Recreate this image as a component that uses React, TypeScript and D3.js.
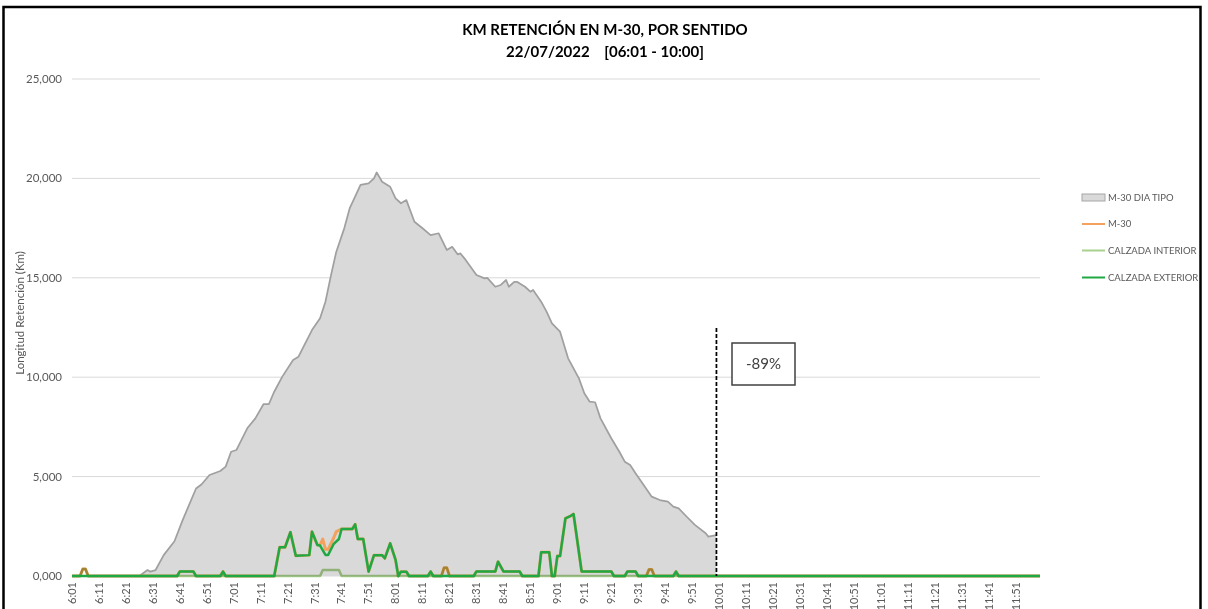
import * as React from 'react';
import * as d3 from 'd3';

const WIDTH = 1208;
const HEIGHT = 609;

// one category per minute, 6:01 .. 12:00
const minutes: string[] = [];
for (let m = 361; m <= 720; m++) {
  minutes.push(Math.floor(m / 60) + ':' + String(m % 60).padStart(2, '0'));
}

const xTicks = [
  '6:01', '6:11', '6:21', '6:31', '6:41', '6:51', '7:01', '7:11', '7:21', '7:31', '7:41', '7:51',
  '8:01', '8:11', '8:21', '8:31', '8:41', '8:51', '9:01', '9:11', '9:21', '9:31', '9:41', '9:51',
  '10:01', '10:11', '10:21', '10:31', '10:41', '10:51', '11:01', '11:11', '11:21', '11:31', '11:41', '11:51',
];
const yTicks = [0, 5000, 10000, 15000, 20000, 25000];

// M-30 DIA TIPO (reference day), ends at 10:00
const diaTipo: [string, number][] = [
  ['6:01', 0], ['6:26', 0], ['6:29', 300], ['6:30', 220], ['6:32', 300], ['6:35', 1050], ['6:39', 1750],
  ['6:42', 2800], ['6:47', 4400], ['6:49', 4600], ['6:52', 5080], ['6:56', 5280], ['6:58', 5500],
  ['7:00', 6250], ['7:02', 6340], ['7:06', 7430], ['7:09', 7930], ['7:12', 8640], ['7:14', 8640],
  ['7:16', 9270], ['7:19', 10030], ['7:23', 10870], ['7:25', 11030], ['7:30', 12370], ['7:33', 12960],
  ['7:35', 13800], ['7:37', 15100], ['7:39', 16300], ['7:42', 17500], ['7:44', 18500], ['7:46', 19080],
  ['7:48', 19670], ['7:51', 19750], ['7:53', 20000], ['7:54', 20300], ['7:56', 19830], ['7:59', 19580],
  ['8:01', 19000], ['8:03', 18750], ['8:05', 18910], ['8:08', 17820], ['8:11', 17490], ['8:14', 17150],
  ['8:17', 17240], ['8:20', 16400], ['8:22', 16560], ['8:24', 16180], ['8:25', 16230], ['8:27', 15900],
  ['8:31', 15140], ['8:34', 14970], ['8:35', 15000], ['8:38', 14550], ['8:40', 14640], ['8:42', 14890],
  ['8:43', 14550], ['8:45', 14800], ['8:46', 14800], ['8:49', 14550], ['8:51', 14300], ['8:52', 14390],
  ['8:55', 13800], ['8:57', 13300], ['8:59', 12710], ['9:02', 12290], ['9:05', 10950], ['9:09', 9940],
  ['9:11', 9190], ['9:13', 8770], ['9:15', 8740], ['9:17', 7930], ['9:21', 6930], ['9:24', 6250],
  ['9:26', 5750], ['9:28', 5580], ['9:30', 5170], ['9:33', 4580], ['9:36', 3990], ['9:39', 3820],
  ['9:42', 3740], ['9:44', 3490], ['9:46', 3400], ['9:49', 2980], ['9:52', 2570], ['9:56', 2150],
  ['9:57', 1980], ['10:00', 2060],
];

// M-30 total
const m30: [string, number][] = [
  ['6:01', 0], ['6:04', 0], ['6:05', 350], ['6:06', 350], ['6:07', 0], ['6:40', 0], ['6:41', 230],
  ['6:46', 230], ['6:47', 0], ['6:56', 0], ['6:57', 220], ['6:58', 0], ['7:16', 0], ['7:18', 1440],
  ['7:20', 1440], ['7:22', 2200], ['7:24', 1020], ['7:29', 1050], ['7:30', 2230], ['7:32', 1560],
  ['7:33', 1560], ['7:34', 1860], ['7:35', 1340], ['7:36', 1340], ['7:38', 1900], ['7:39', 2230],
  ['7:40', 2300], ['7:41', 2370], ['7:45', 2370], ['7:46', 2600], ['7:47', 1860], ['7:49', 1860],
  ['7:51', 220], ['7:53', 1050], ['7:56', 1050], ['7:57', 890], ['7:59', 1640], ['8:01', 810],
  ['8:02', 0], ['8:03', 220], ['8:05', 220], ['8:06', 0], ['8:13', 0], ['8:14', 220], ['8:15', 0],
  ['8:18', 0], ['8:19', 420], ['8:20', 420], ['8:21', 0], ['8:30', 0], ['8:31', 230], ['8:38', 230],
  ['8:39', 720], ['8:41', 230], ['8:47', 230], ['8:48', 0], ['8:54', 0], ['8:55', 1190], ['8:58', 1190],
  ['8:59', 0], ['9:00', 0], ['9:01', 1000], ['9:02', 1000], ['9:04', 2900], ['9:06', 3030],
  ['9:07', 3120], ['9:10', 230], ['9:21', 230], ['9:22', 0], ['9:26', 0], ['9:27', 230], ['9:30', 230],
  ['9:31', 0], ['9:34', 0], ['9:35', 330], ['9:36', 330], ['9:37', 0], ['9:44', 0], ['9:45', 220],
  ['9:46', 0], ['12:00', 0],
];

const calzadaInterior: [string, number][] = [
  ['6:01', 0], ['6:04', 0], ['6:05', 350], ['6:06', 350], ['6:07', 0], ['7:33', 0], ['7:34', 300],
  ['7:40', 300], ['7:41', 0], ['8:18', 0], ['8:19', 420], ['8:20', 420], ['8:21', 0], ['9:34', 0],
  ['9:35', 330], ['9:36', 330], ['9:37', 0], ['12:00', 0],
];

const calzadaExterior: [string, number][] = [
  ['6:01', 0], ['6:40', 0], ['6:41', 230], ['6:46', 230], ['6:47', 0], ['6:56', 0], ['6:57', 220],
  ['6:58', 0], ['7:16', 0], ['7:18', 1440], ['7:20', 1440], ['7:22', 2200], ['7:24', 1020],
  ['7:29', 1050], ['7:30', 2230], ['7:32', 1560], ['7:33', 1530], ['7:35', 1060], ['7:36', 1060],
  ['7:38', 1600], ['7:40', 1860], ['7:41', 2370], ['7:45', 2370], ['7:46', 2600], ['7:47', 1860],
  ['7:49', 1860], ['7:51', 220], ['7:53', 1050], ['7:56', 1050], ['7:57', 890], ['7:59', 1640],
  ['8:01', 810], ['8:02', 0], ['8:03', 220], ['8:05', 220], ['8:06', 0], ['8:13', 0], ['8:14', 220],
  ['8:15', 0], ['8:30', 0], ['8:31', 230], ['8:38', 230], ['8:39', 720], ['8:41', 230], ['8:47', 230],
  ['8:48', 0], ['8:54', 0], ['8:55', 1190], ['8:58', 1190], ['8:59', 0], ['9:00', 0], ['9:01', 1000],
  ['9:02', 1000], ['9:04', 2900], ['9:06', 3030], ['9:07', 3120], ['9:10', 230], ['9:21', 230],
  ['9:22', 0], ['9:26', 0], ['9:27', 230], ['9:30', 230], ['9:31', 0], ['9:44', 0], ['9:45', 220],
  ['9:46', 0], ['12:00', 0],
];

const cutoff = '10:00';
const reduction = '-89%';

const FONT = 'Lato, Calibri, "Open Sans", sans-serif';
const GREY_TEXT = '#595959';

export default function App() {
  const ref = React.useRef<SVGSVGElement>(null);

  React.useEffect(() => {
    const svg = d3.select(ref.current);
    svg.selectAll('*').remove();

    const margin = { top: 79, right: 168, bottom: 33, left: 72 };
    const x = d3.scalePoint<string>().domain(minutes).range([margin.left, WIDTH - margin.right]);
    const y = d3.scaleLinear().domain([0, 25000]).range([HEIGHT - margin.bottom, margin.top]);

    svg.append('rect').attr('width', WIDTH).attr('height', HEIGHT).attr('fill', '#fff');

    // gridlines
    svg
      .append('g')
      .selectAll('line')
      .data(yTicks)
      .join('line')
      .attr('x1', margin.left)
      .attr('x2', WIDTH - margin.right)
      .attr('y1', d => y(d))
      .attr('y2', d => y(d))
      .attr('stroke', '#d9d9d9')
      .attr('stroke-width', 1);

    // y tick labels
    svg
      .append('g')
      .selectAll('text')
      .data(yTicks)
      .join('text')
      .attr('x', 62)
      .attr('y', d => y(d))
      .attr('dy', '0.35em')
      .attr('text-anchor', 'end')
      .attr('font-family', FONT)
      .attr('font-size', 11.5)
      .attr('fill', GREY_TEXT)
      .text(d => (d === 0 ? '0,000' : d3.format(',')(d)));

    svg
      .append('text')
      .attr('transform', 'translate(20,313) rotate(-90)')
      .attr('text-anchor', 'middle')
      .attr('dy', '0.35em')
      .attr('font-family', FONT)
      .attr('font-size', 11.5)
      .attr('fill', GREY_TEXT)
      .text('Longitud Retención (Km)');

    // x tick labels, rotated
    svg
      .append('g')
      .selectAll('text')
      .data(xTicks)
      .join('text')
      .attr('transform', d => `translate(${x(d)},582) rotate(-90)`)
      .attr('dy', '0.35em')
      .attr('text-anchor', 'end')
      .attr('font-family', FONT)
      .attr('font-size', 11)
      .attr('fill', GREY_TEXT)
      .text(d => d);

    // reference day area
    const area = d3
      .area<[string, number]>()
      .x(d => x(d[0])!)
      .y0(y(0))
      .y1(d => y(d[1]));
    const line = d3
      .line<[string, number]>()
      .x(d => x(d[0])!)
      .y(d => y(d[1]));

    svg.append('path').datum(diaTipo).attr('d', area).attr('fill', '#d9d9d9');
    svg
      .append('path')
      .datum(diaTipo)
      .attr('d', line)
      .attr('fill', 'none')
      .attr('stroke', '#a0a0a0')
      .attr('stroke-width', 1.75)
      .attr('stroke-linejoin', 'round');

    svg
      .append('path')
      .datum(m30)
      .attr('d', line)
      .attr('fill', 'none')
      .attr('stroke', '#f4a15d')
      .attr('stroke-width', 3)
      .attr('stroke-linejoin', 'round');
    svg
      .append('path')
      .datum(calzadaInterior)
      .attr('d', line)
      .attr('fill', 'none')
      .attr('stroke', '#a9d18e')
      .attr('stroke-width', 2.5)
      .attr('stroke-linejoin', 'round')
      .style('mix-blend-mode', 'multiply');
    svg
      .append('path')
      .datum(calzadaExterior)
      .attr('d', line)
      .attr('fill', 'none')
      .attr('stroke', '#1fa843')
      .attr('stroke-width', 2.5)
      .attr('stroke-linejoin', 'round');

    // cut-off marker and label
    svg
      .append('line')
      .attr('x1', x(cutoff)!)
      .attr('x2', x(cutoff)!)
      .attr('y1', 328)
      .attr('y2', y(0))
      .attr('stroke', '#000')
      .attr('stroke-width', 1.75)
      .attr('stroke-dasharray', '4,2');

    svg
      .append('rect')
      .attr('x', 732)
      .attr('y', 343)
      .attr('width', 63)
      .attr('height', 42)
      .attr('fill', '#fff')
      .attr('stroke', '#404040')
      .attr('stroke-width', 1.5);
    svg
      .append('text')
      .attr('x', 763.5)
      .attr('y', 364)
      .attr('dy', '0.35em')
      .attr('text-anchor', 'middle')
      .attr('font-family', FONT)
      .attr('font-size', 15)
      .attr('fill', '#404040')
      .text(reduction);

    // legend
    const legend = svg.append('g').attr('font-family', FONT).attr('font-size', 9.5).attr('fill', GREY_TEXT);
    legend
      .append('rect')
      .attr('x', 1082)
      .attr('y', 194)
      .attr('width', 23)
      .attr('height', 7)
      .attr('fill', '#d9d9d9')
      .attr('stroke', '#a6a6a6')
      .attr('stroke-width', 1);
    const items = [
      { label: 'M-30 DIA TIPO', y: 197.5, color: null },
      { label: 'M-30', y: 224, color: '#f4a15d' },
      { label: 'CALZADA INTERIOR', y: 250.5, color: '#a9d18e' },
      { label: 'CALZADA EXTERIOR', y: 277.5, color: '#1fa843' },
    ];
    items.forEach(it => {
      if (it.color) {
        legend
          .append('line')
          .attr('x1', 1082)
          .attr('x2', 1105)
          .attr('y1', it.y)
          .attr('y2', it.y)
          .attr('stroke', it.color)
          .attr('stroke-width', 2);
      }
      legend
        .append('text')
        .attr('x', 1108)
        .attr('y', it.y)
        .attr('dy', '0.35em')
        .text(it.label);
    });

    // title
    svg
      .append('text')
      .attr('x', 605)
      .attr('y', 35)
      .attr('text-anchor', 'middle')
      .attr('font-family', FONT)
      .attr('font-weight', 'bold')
      .attr('font-size', 15)
      .text('KM RETENCIÓN EN M-30, POR SENTIDO');
    svg
      .append('text')
      .attr('x', 605)
      .attr('y', 57)
      .attr('text-anchor', 'middle')
      .attr('font-family', FONT)
      .attr('font-weight', 'bold')
      .attr('font-size', 15)
      .style('white-space', 'pre')
      .text('22/07/2022    [06:01 - 10:00]');

    // outer frame
    svg
      .append('rect')
      .attr('x', 3.5)
      .attr('y', 7)
      .attr('width', 1197)
      .attr('height', 640)
      .attr('fill', 'none')
      .attr('stroke', '#000')
      .attr('stroke-width', 2.5);
  }, []);

  return (
    <svg
      ref={ref}
      width={WIDTH}
      height={HEIGHT}
      style={{ position: 'absolute', left: 0, top: 0, display: 'block' }}
    />
  );
}
